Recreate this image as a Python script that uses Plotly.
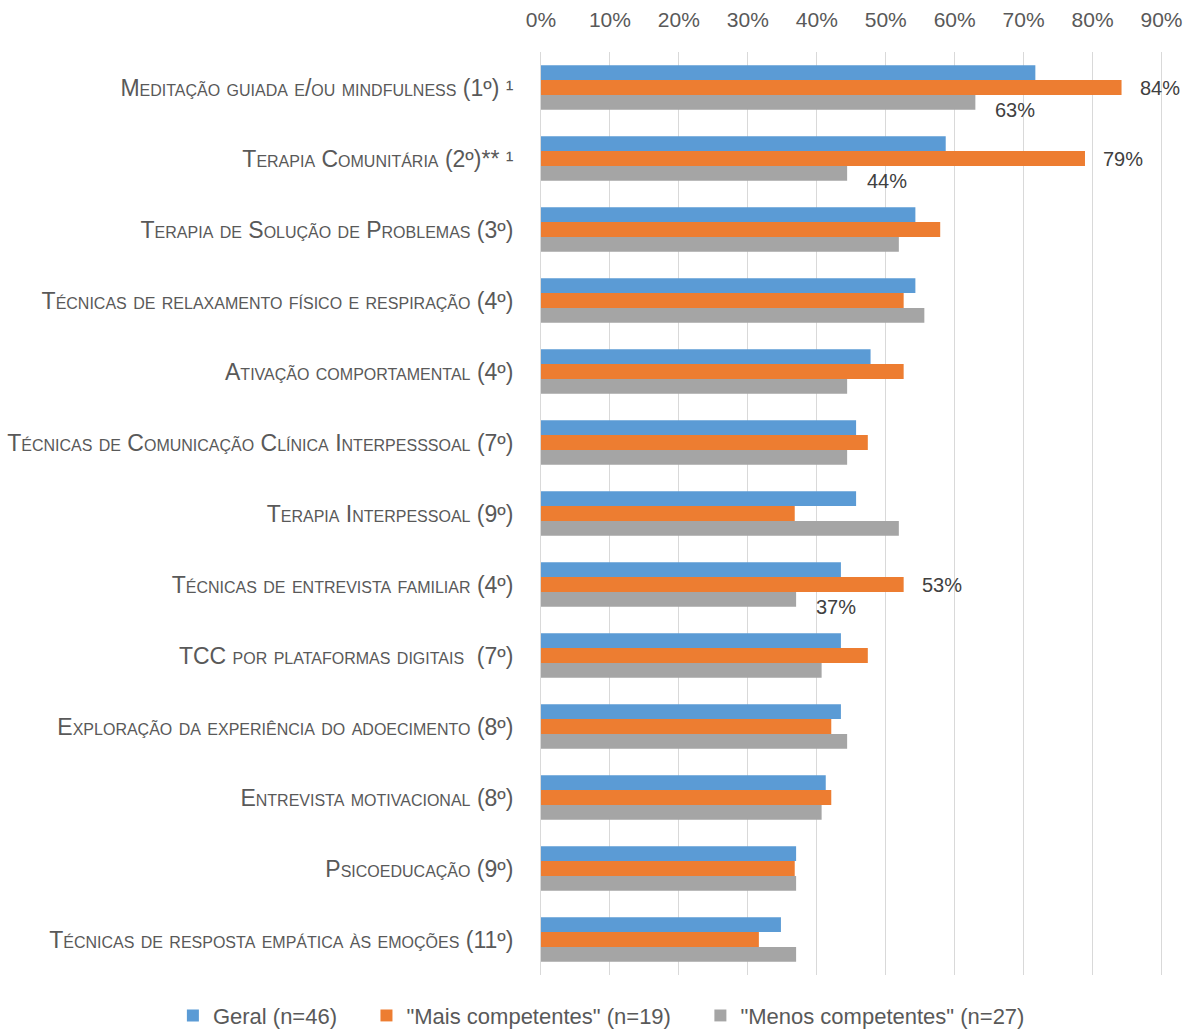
import plotly.graph_objects as go

categories = [
    "Meditação guiada e/ou mindfulness (1º) ¹",
    "Terapia Comunitária (2º)** ¹",
    "Terapia de Solução de Problemas (3º)",
    "Técnicas de relaxamento físico e respiração (4º)",
    "Ativação comportamental (4º)",
    "Técnicas de Comunicação Clínica Interpesssoal (7º)",
    "Terapia Interpessoal (9º)",
    "Técnicas de entrevista familiar (4º)",
    "TCC por plataformas digitais  (7º)",
    "Exploração da experiência do adoecimento (8º)",
    "Entrevista motivacional (8º)",
    "Psicoeducação (9º)",
    "Técnicas de resposta empática às emoções (11º)",
]

geral = [0.717, 0.587, 0.543, 0.543, 0.478, 0.457, 0.457, 0.435, 0.435, 0.435, 0.413, 0.370, 0.348]
mais = [0.842, 0.789, 0.579, 0.526, 0.526, 0.474, 0.368, 0.526, 0.474, 0.421, 0.421, 0.368, 0.316]
menos = [0.630, 0.444, 0.519, 0.556, 0.444, 0.444, 0.519, 0.370, 0.407, 0.444, 0.407, 0.370, 0.370]

mais_labels = ["84%", "79%", "", "", "", "", "", "53%", "", "", "", "", ""]
menos_labels = ["63%", "44%", "", "", "", "", "", "37%", "", "", "", "", ""]

series_names = ['Geral (n=46)', '"Mais competentes" (n=19)', '"Menos competentes" (n=27)']
colors = ["#5b9bd5", "#ed7d31", "#a5a5a5"]

FONT = "Liberation Sans, sans-serif"
PAD = "\u00a0" * 4  # extra spacing between legend entries

fig = go.Figure()
for name, vals, col in zip(series_names, [geral, mais, menos], colors):
    fig.add_trace(go.Bar(
        y=categories, x=vals, name=name + PAD, orientation="h",
        marker=dict(color=col, line=dict(width=0)),
        hovertemplate="%{y}: %{x:.0%}<extra>" + name + "</extra>",
    ))

annotations = []
for cat, v, t in zip(categories, mais, mais_labels):
    if t:
        annotations.append(dict(x=v, y=cat, text=t, showarrow=False, xanchor="left",
                                xshift=16, yshift=0,
                                font=dict(family=FONT, size=20, color="#404040")))
for cat, v, t in zip(categories, menos, menos_labels):
    if t:
        annotations.append(dict(x=v, y=cat, text=t, showarrow=False, xanchor="left",
                                xshift=18, yshift=-22,
                                font=dict(family=FONT, size=20, color="#404040")))

fig.update_layout(
    width=1196, height=1029,
    margin=dict(l=541, r=0, t=52, b=54, autoexpand=False),
    paper_bgcolor="white", plot_bgcolor="white",
    barmode="group", bargap=0.37, bargroupgap=0,
    font=dict(family=FONT, color="#595959"),
    annotations=annotations,
    legend=dict(orientation="h", xref="paper", yref="paper",
                x=-0.562, xanchor="left", y=-0.044, yanchor="middle",
                font=dict(family=FONT, size=22, color="#595959"),
                itemwidth=30, traceorder="normal", tracegroupgap=0),
    showlegend=True,
)
fig.update_xaxes(
    side="top", range=[0, 0.95], tickvals=[i / 10 for i in range(10)],
    tickformat=".0%", showgrid=True, gridcolor="#d9d9d9", gridwidth=1,
    zeroline=False, showline=False, ticks="outside", ticklen=16, tickcolor="rgba(0,0,0,0)",
    tickfont=dict(family=FONT, size=21, color="#595959"),
    fixedrange=True,
)
fig.update_yaxes(
    autorange="reversed", showgrid=False, showline=True, linecolor="#d9d9d9",
    ticks="outside", ticklen=22, tickcolor="rgba(0,0,0,0)",
    tickfont=dict(family=FONT, size=23, color="#595959", variant="small-caps"),
    automargin=False, fixedrange=True,
)
fig.write_html("out.html", config={"displayModeBar": False},
               post_script="document.body.style.margin='0';")
